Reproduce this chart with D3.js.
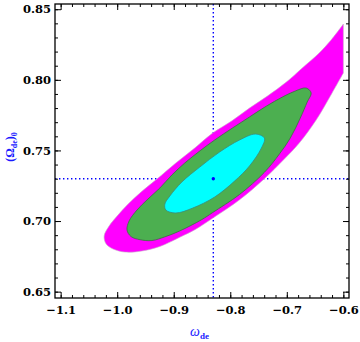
<!DOCTYPE html>
<html>
<head>
<meta charset="utf-8">
<script src="https://cdn.jsdelivr.net/npm/d3@7"></script>
<style>
  body { margin: 0; background: #fff; }
  svg { display: block; }
</style>
</head>
<body>
<svg id="chart" width="360" height="342"></svg>
<script>
// best fit point (w_de, Omega_de0)
const bestFit = [-0.83, 0.73];

// confidence contours, as [w_de, Omega_de0]
// 3 sigma: open curve from top right corner, round the left tip, back to the cut at w = -0.6
const sigma3 = [
  [-0.600, 0.8395], [-0.6217, 0.8282], [-0.6428, 0.8190], [-0.6727, 0.8084],
  [-0.7009, 0.7984], [-0.7343, 0.7885], [-0.7660, 0.7800], [-0.7977, 0.7708],
  [-0.8312, 0.7623], [-0.8629, 0.7517], [-0.8963, 0.7411], [-0.9298, 0.7297],
  [-0.9579, 0.7205], [-0.9808, 0.7120], [-1.0002, 0.7035], [-1.0143, 0.6965],
  [-1.0231, 0.6894], [-1.0195, 0.6837], [-1.0072, 0.6802], [-0.9861, 0.6780],
  [-0.9562, 0.6788], [-0.9245, 0.6820], [-0.8893, 0.6885], [-0.8611, 0.6942],
  [-0.8312, 0.7020], [-0.7836, 0.7150], [-0.7396, 0.7300], [-0.7044, 0.7439],
  [-0.6780, 0.7552], [-0.6481, 0.7715], [-0.6199, 0.7907], [-0.600, 0.8048]
];

// 2 sigma
const sigma2 = [
  [-0.6569, 0.7907], [-0.6657, 0.7942], [-0.6850, 0.7921], [-0.7079, 0.7878],
  [-0.7361, 0.7814], [-0.7660, 0.7737], [-0.7960, 0.7659], [-0.8276, 0.7574],
  [-0.8540, 0.7496], [-0.8805, 0.7411], [-0.9033, 0.7326], [-0.9245, 0.7234],
  [-0.9456, 0.7156], [-0.9650, 0.7078], [-0.9790, 0.7000], [-0.9826, 0.6936],
  [-0.9755, 0.6890], [-0.9597, 0.6868], [-0.9386, 0.6862], [-0.9157, 0.6888],
  [-0.8893, 0.6930], [-0.8505, 0.7010], [-0.8312, 0.7060], [-0.7836, 0.7188],
  [-0.7396, 0.7345], [-0.7132, 0.7474], [-0.6938, 0.7588], [-0.6762, 0.7729],
  [-0.6639, 0.7843]
];

// 1 sigma
const sigma1 = [
  [-0.7396, 0.7588], [-0.7449, 0.7517], [-0.7660, 0.7390], [-0.7924, 0.7283],
  [-0.8276, 0.7170], [-0.8664, 0.7092], [-0.8963, 0.7057], [-0.9139, 0.7078],
  [-0.9157, 0.7120], [-0.9069, 0.7177], [-0.8857, 0.7276], [-0.8540, 0.7382],
  [-0.8188, 0.7489], [-0.7836, 0.7574], [-0.7555, 0.7616]
];

const xTicks = [-1.1, -1.0, -0.9, -0.8, -0.7, -0.6];
const yTicks = [0.65, 0.70, 0.75, 0.80, 0.85];

let svg = d3.select("#chart");

let canvas = {"width": 360, "height": 342,
              "left": 55, "right": 349, "top": 4, "bottom": 298};

let xScale = d3.scaleLinear()
  .domain([-1.11, -0.59])
  .range([canvas.left, canvas.right]);

let yScale = d3.scaleLinear()
  .domain([0.6455, 0.8537])
  .range([canvas.bottom, canvas.top]);

svg.append("rect")
  .attr("width", canvas.width)
  .attr("height", canvas.height)
  .attr("fill", "white");

// dotted guides through the best fit, drawn under the contours
let guides = svg.append("g")
  .attr("stroke", "#0000ff")
  .attr("stroke-width", 1.4)
  .attr("stroke-dasharray", "1.4,2.6");

guides.append("line")
  .attr("x1", canvas.left).attr("x2", canvas.right)
  .attr("y1", yScale(bestFit[1])).attr("y2", yScale(bestFit[1]));

guides.append("line")
  .attr("x1", xScale(bestFit[0])).attr("x2", xScale(bestFit[0]))
  .attr("y1", canvas.top).attr("y2", canvas.bottom);

// contours
let openLine = d3.line()
  .x(d => xScale(d[0]))
  .y(d => yScale(d[1]))
  .curve(d3.curveCatmullRom);

let closedLine = d3.line()
  .x(d => xScale(d[0]))
  .y(d => yScale(d[1]))
  .curve(d3.curveCatmullRomClosed);

svg.append("path")
  .attr("d", openLine(sigma3) + "Z")
  .attr("fill", "#ff00ff")
  .attr("stroke", "#c8b0c8")
  .attr("stroke-width", 0.6);

svg.append("path")
  .attr("d", closedLine(sigma2))
  .attr("fill", "#4caf50")
  .attr("stroke", "#3d6b45")
  .attr("stroke-width", 0.8);

svg.append("path")
  .attr("d", closedLine(sigma1))
  .attr("fill", "#00ffff")
  .attr("stroke", "#3a8c7c")
  .attr("stroke-width", 0.8);

svg.append("circle")
  .attr("cx", xScale(bestFit[0]))
  .attr("cy", yScale(bestFit[1]))
  .attr("r", 1.7)
  .attr("fill", "#0000ff");

// axes, ticks pointing inward on all four sides
function styleAxis(g) {
  g.select(".domain").remove();
  g.selectAll(".tick line").attr("stroke", "black").attr("stroke-width", 1);
  g.attr("font-family", "'DejaVu Serif', serif")
    .attr("font-size", 11.5)
    .attr("font-weight", "bold");
  g.selectAll(".tick text").attr("fill", "black");
}

let xMinor = d3.range(-1.1, -0.599, 0.02);
let yMinor = d3.range(0.65, 0.8501, 0.01);

svg.append("g")
  .attr("transform", `translate(0, ${canvas.bottom})`)
  .call(d3.axisBottom(xScale).tickValues(xMinor).tickSize(-3).tickFormat(""))
  .call(styleAxis);
svg.append("g")
  .attr("transform", `translate(0, ${canvas.bottom})`)
  .call(d3.axisBottom(xScale).tickValues(xTicks).tickSize(-6).tickPadding(8).tickFormat(d3.format(".1f")))
  .call(styleAxis);

svg.append("g")
  .attr("transform", `translate(0, ${canvas.top})`)
  .call(d3.axisTop(xScale).tickValues(xMinor).tickSize(-3).tickFormat(""))
  .call(styleAxis);
svg.append("g")
  .attr("transform", `translate(0, ${canvas.top})`)
  .call(d3.axisTop(xScale).tickValues(xTicks).tickSize(-6).tickFormat(""))
  .call(styleAxis);

svg.append("g")
  .attr("transform", `translate(${canvas.left}, 0)`)
  .call(d3.axisLeft(yScale).tickValues(yMinor).tickSize(-3).tickFormat(""))
  .call(styleAxis);
svg.append("g")
  .attr("transform", `translate(${canvas.left}, 0)`)
  .call(d3.axisLeft(yScale).tickValues(yTicks).tickSize(-6).tickPadding(4).tickFormat(d3.format(".2f")))
  .call(styleAxis);

svg.append("g")
  .attr("transform", `translate(${canvas.right}, 0)`)
  .call(d3.axisRight(yScale).tickValues(yMinor).tickSize(-3).tickFormat(""))
  .call(styleAxis);
svg.append("g")
  .attr("transform", `translate(${canvas.right}, 0)`)
  .call(d3.axisRight(yScale).tickValues(yTicks).tickSize(-6).tickFormat(""))
  .call(styleAxis);

// frame
svg.append("rect")
  .attr("x", canvas.left)
  .attr("y", canvas.top)
  .attr("width", canvas.right - canvas.left)
  .attr("height", canvas.bottom - canvas.top)
  .attr("fill", "none")
  .attr("stroke", "black")
  .attr("stroke-width", 1.3);

// axis titles
let xTitle = svg.append("text")
  .attr("x", 190)
  .attr("y", 336)
  .attr("fill", "#1a1aff")
  .attr("font-family", "'Liberation Serif', serif");
xTitle.append("tspan").attr("font-style", "italic").attr("font-size", 14).text("ω");
xTitle.append("tspan").attr("font-weight", "bold").attr("font-size", 9).attr("dy", 3).text("de");

let yTitle = svg.append("text")
  .attr("transform", "translate(14, 147) rotate(-90)")
  .attr("text-anchor", "middle")
  .attr("fill", "#1a1aff")
  .attr("font-family", "'Liberation Serif', serif")
  .attr("font-weight", "bold")
  .attr("font-size", 12);
yTitle.append("tspan").text("(Ω");
yTitle.append("tspan").attr("font-size", 8).attr("dy", 3).text("de");
yTitle.append("tspan").attr("dy", -3).text(")");
yTitle.append("tspan").attr("font-size", 8).attr("dy", 3).text("0");
</script>
</body>
</html>
